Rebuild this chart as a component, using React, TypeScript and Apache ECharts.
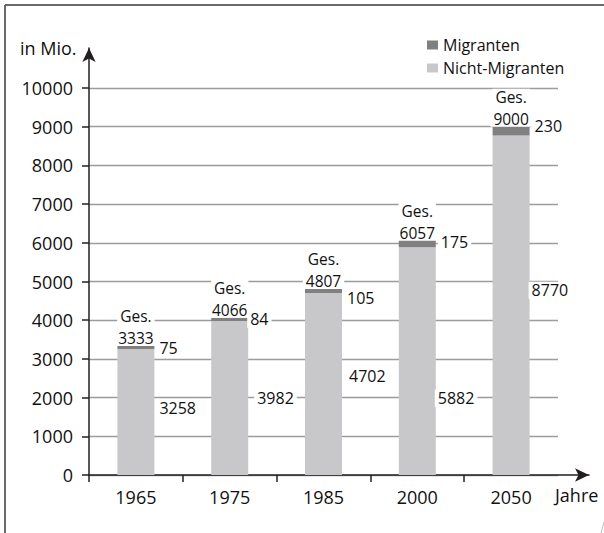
import React, { useEffect, useRef } from "react";
import * as echarts from "echarts";

// ---- data ----
const YEARS = ["1965", "1975", "1985", "2000", "2050"];
const NON_MIGRANTS = [3258, 3982, 4702, 5882, 8770];
const MIGRANTS = [75, 84, 105, 175, 230];
const TOTALS = [3333, 4066, 4807, 6057, 9000];
const TOTAL_PREFIX = "Ges.";
const Y_MIN = 0;
const Y_MAX = 10000;
const Y_STEP = 1000;
const SERIES_NAMES = ["Migranten", "Nicht-Migranten"];

// ---- layout (label nudges, px) ----
const NM_LABEL_OFFSET = [[-1, -4], [3, 0], [1, -8], [-4, 37], [-4, -15]];
const MG_LABEL_OFFSET = [[0, 1], [-3, 0], [0, 7], [0, -2], [0, -5]];

const FONT = "'Open Sans', 'Noto Sans', sans-serif";
const DARK = "#808080";
const LIGHT = "#c8c8ca";
const AXIS = "#231f20";

export default function App() {
  const ref = useRef<HTMLDivElement>(null);

  useEffect(() => {
    if (!ref.current) return;
    const chart = echarts.init(ref.current, null, { renderer: "svg" });

    const mainLeft = 89;
    const mainRight = 46;
    const gridBottom = 58;
    const catWidth = (604 - mainLeft - mainRight) / YEARS.length;
    const overlayRight = 15;
    const overlayMax = (604 - mainLeft - overlayRight) / catWidth;

    const valueLabel = {
      show: true,
      position: "right" as const,
      distance: 3,
      color: "#111",
      fontFamily: FONT,
      fontSize: 16,
      backgroundColor: "#fff",
      padding: [1, 3, 0, 3],
    };

    const totalLabel = (distance: number, fmt: (p: any) => string) => ({
      show: true,
      position: "top" as const,
      distance,
      formatter: fmt,
      color: "#111",
      fontFamily: FONT,
      fontSize: 15.5,
      backgroundColor: "#fff",
      padding: [0, 3, 0, 3],
    });

    const totalBar = (name: string, distance: number, fmt: (p: any) => string) => ({
      name,
      type: "bar",
      xAxisIndex: 0,
      yAxisIndex: 0,
      barWidth: 37,
      barGap: "-100%",
      silent: true,
      itemStyle: { color: "rgba(0,0,0,0)" },
      data: TOTALS,
      label: totalLabel(distance, fmt),
      z: 4,
    });

    chart.setOption({
      animation: false,
      textStyle: { fontFamily: FONT },
      grid: [
        { left: mainLeft, right: mainRight, top: 88, bottom: gridBottom },
        { left: mainLeft, right: overlayRight, top: 48, bottom: gridBottom },
      ],
      legend: {
        data: SERIES_NAMES,
        orient: "vertical",
        left: 422,
        top: 32,
        itemWidth: 11,
        itemHeight: 9,
        itemGap: 7,
        icon: "rect",
        textStyle: { fontFamily: FONT, fontSize: 16, color: "#111" },
      },
      xAxis: [
        {
          type: "category",
          gridIndex: 0,
          data: YEARS,
          boundaryGap: true,
          axisLine: { show: false },
          axisTick: { show: false },
          axisLabel: { color: "#111", fontSize: 18, fontFamily: FONT, margin: 13 },
        },
        {
          type: "value",
          gridIndex: 1,
          min: 0,
          max: overlayMax,
          axisLine: {
            show: true,
            onZero: false,
            symbol: ["none", "arrow"],
            symbolSize: [10, 14],
            lineStyle: { color: AXIS, width: 1.5 },
          },
          axisTick: {
            show: true,
            length: 7,
            customValues: [0, 1, 2, 3, 4],
            lineStyle: { color: AXIS, width: 1.5 },
          },
          axisLabel: { show: false },
          splitLine: { show: false },
        },
      ],
      yAxis: [
        {
          type: "value",
          gridIndex: 0,
          min: Y_MIN,
          max: Y_MAX,
          interval: Y_STEP,
          axisLine: { show: false },
          axisTick: { show: true, length: 7, lineStyle: { color: AXIS, width: 1.5 } },
          axisLabel: {
            color: "#111",
            fontSize: 18,
            fontFamily: FONT,
            margin: 16,
            formatter: (v: number) => String(v),
          },
          splitLine: { show: true, lineStyle: { color: "#9c9c9c", width: 1.3 } },
        },
        {
          type: "value",
          gridIndex: 1,
          min: 0,
          max: 1,
          axisLine: {
            show: true,
            onZero: false,
            symbol: ["none", "arrow"],
            symbolSize: [10, 14],
            lineStyle: { color: AXIS, width: 1.5 },
          },
          axisTick: { show: false },
          axisLabel: { show: false },
          splitLine: { show: false },
        },
      ],
      series: [
        {
          name: "Nicht-Migranten",
          type: "bar",
          stack: "total",
          xAxisIndex: 0,
          yAxisIndex: 0,
          barWidth: 37,
          barGap: "-100%",
          itemStyle: { color: LIGHT },
          data: NON_MIGRANTS.map((v, i) => ({ value: v, label: { offset: NM_LABEL_OFFSET[i] } })),
          label: valueLabel,
          z: 3,
        },
        {
          name: "Migranten",
          type: "bar",
          stack: "total",
          xAxisIndex: 0,
          yAxisIndex: 0,
          barWidth: 37,
          barGap: "-100%",
          itemStyle: { color: DARK },
          data: MIGRANTS.map((v, i) => ({ value: v, label: { offset: MG_LABEL_OFFSET[i] } })),
          label: { ...valueLabel, distance: 2 },
          z: 3,
        },
        totalBar("Gesamt", 0, (p: any) => String(p.value)),
        totalBar("GesamtTitel", 22, () => TOTAL_PREFIX),
      ],
      graphic: [
        { type: "line", shape: { x1: 5, y1: 5, x2: 604, y2: 5 }, style: { stroke: "#6a6a6a", lineWidth: 2 } },
        { type: "line", shape: { x1: 5, y1: 5, x2: 5, y2: 533 }, style: { stroke: "#6a6a6a", lineWidth: 2 } },
        { type: "line", shape: { x1: 601, y1: 533, x2: 604, y2: 522 }, style: { stroke: "#bbbbbb", lineWidth: 1 } },
        {
          type: "text",
          left: 20,
          top: 39,
          style: { text: "in Mio.", fill: "#111", font: `18px ${FONT}` },
        },
        {
          type: "text",
          left: 555,
          top: 486,
          style: { text: "Jahre", fill: "#111", font: `18px ${FONT}` },
        },
      ],
    });

    return () => chart.dispose();
  }, []);

  return (
    <div
      ref={ref}
      style={{ position: "absolute", left: 0, top: 0, width: 604, height: 533, background: "#fff" }}
    />
  );
}
